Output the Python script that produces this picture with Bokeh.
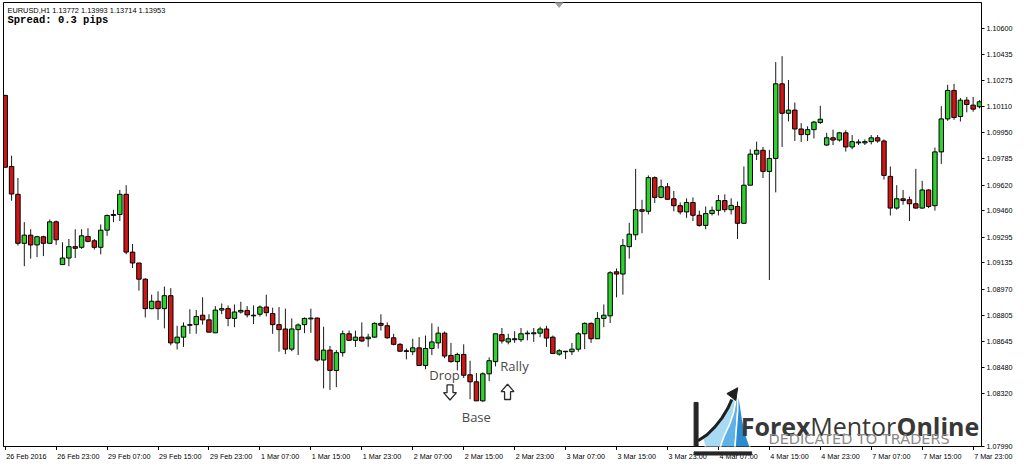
from bokeh.plotting import figure
from bokeh.layouts import column
from bokeh.models import Range1d, FixedTicker, PrintfTickFormatter, Label, PolyAnnotation, ColumnDataSource
from bokeh.core.properties import value
from bokeh.embed import file_html
from bokeh.resources import INLINE

# ---------------- data ----------------
SYMBOL_INFO = "EURUSD,H1  1.13772 1.13993 1.13714 1.13953"
SPREAD_INFO = "Spread: 0.3 pips"

OPEN = [1.10181, 1.09737, 1.09563, 1.09257, 1.09308, 1.09247, 1.09298, 1.09257, 1.09391, 1.09124,
        1.09165, 1.09236, 1.09232, 1.09300, 1.09273, 1.09232, 1.09339, 1.09431, 1.09437, 1.09563,
        1.09202, 1.09134, 1.09033, 1.08849, 1.08895, 1.08849, 1.08930, 1.08635, 1.08671, 1.08745,
        1.08749, 1.08808, 1.08779, 1.08698, 1.08840, 1.08849, 1.08788, 1.08828, 1.08838, 1.08804,
        1.08814, 1.08859, 1.08818, 1.08749, 1.08722, 1.08596, 1.08718, 1.08749, 1.08785, 1.08790,
        1.08528, 1.08590, 1.08463, 1.08574, 1.08692, 1.08651, 1.08671, 1.08661, 1.08671, 1.08757,
        1.08742, 1.08667, 1.08626, 1.08586, 1.08580, 1.08604, 1.08494, 1.08600, 1.08635, 1.08696,
        1.08557, 1.08518, 1.08563, 1.08436, 1.08392, 1.08273, 1.08442, 1.08518, 1.08687, 1.08641,
        1.08655, 1.08655, 1.08692, 1.08692, 1.08696, 1.08722, 1.08671, 1.08565, 1.08580, 1.08580,
        1.08596, 1.08692, 1.08757, 1.08661, 1.08788, 1.08804, 1.09079, 1.09065, 1.09236, 1.09310,
        1.09467, 1.09457, 1.09667, 1.09544, 1.09610, 1.09535, 1.09492, 1.09453, 1.09512, 1.09432,
        1.09369, 1.09443, 1.09463, 1.09524, 1.09467, 1.09487, 1.09382, 1.09620, 1.09814, 1.09838,
        1.09706, 1.09787, 1.10253, 1.10069, 1.10089, 1.09971, 1.09936, 1.09967, 1.10012, 1.09871,
        1.09916, 1.09902, 1.09947, 1.09859, 1.09884, 1.09884, 1.09892, 1.09916, 1.09896, 1.09675,
        1.09477, 1.09535, 1.09529, 1.09504, 1.09477, 1.09590, 1.09492, 1.09828, 1.10034, 1.10212,
        1.10049, 1.10151, 1.10120, 1.10110]
HIGH = [1.10181, 1.09804, 1.09665, 1.09389, 1.09345, 1.09304, 1.09304, 1.09406, 1.09400, 1.09263,
        1.09284, 1.09345, 1.09345, 1.09351, 1.09284, 1.09375, 1.09437, 1.09467, 1.09590, 1.09620,
        1.09253, 1.09134, 1.09039, 1.08936, 1.08957, 1.08987, 1.08977, 1.08742, 1.08763, 1.08845,
        1.08840, 1.08920, 1.08814, 1.08865, 1.08881, 1.08869, 1.08875, 1.08892, 1.08865, 1.08869,
        1.08869, 1.08936, 1.08855, 1.08859, 1.08849, 1.08788, 1.08757, 1.08794, 1.08849, 1.08794,
        1.08736, 1.08616, 1.08590, 1.08712, 1.08712, 1.08712, 1.08763, 1.08692, 1.08763, 1.08814,
        1.08763, 1.08692, 1.08635, 1.08600, 1.08661, 1.08671, 1.08681, 1.08757, 1.08736, 1.08706,
        1.08635, 1.08574, 1.08626, 1.08524, 1.08447, 1.08451, 1.08545, 1.08692, 1.08728, 1.08692,
        1.08708, 1.08728, 1.08712, 1.08728, 1.08736, 1.08742, 1.08681, 1.08596, 1.08583, 1.08635,
        1.08702, 1.08763, 1.08763, 1.08828, 1.08875, 1.09083, 1.09100, 1.09284, 1.09385, 1.09722,
        1.09529, 1.09681, 1.09675, 1.09655, 1.09634, 1.09584, 1.09512, 1.09538, 1.09544, 1.09461,
        1.09487, 1.09487, 1.09559, 1.09563, 1.09538, 1.09518, 1.09737, 1.09844, 1.09892, 1.09859,
        1.09841, 1.10389, 1.10426, 1.10277, 1.10136, 1.10008, 1.09988, 1.10022, 1.10116, 1.09947,
        1.09967, 1.09953, 1.09963, 1.09933, 1.09906, 1.09906, 1.09933, 1.09933, 1.09906, 1.09737,
        1.09620, 1.09590, 1.09549, 1.09722, 1.09647, 1.09593, 1.09855, 1.10114, 1.10247, 1.10253,
        1.10165, 1.10171, 1.10171, 1.10151]
LOW = [1.09732, 1.09523, 1.09243, 1.09114, 1.09161, 1.09171, 1.09177, 1.09257, 1.09247, 1.09124,
       1.09114, 1.09165, 1.09222, 1.09263, 1.09218, 1.09188, 1.09304, 1.09389, 1.09396, 1.09188,
       1.09103, 1.08961, 1.08794, 1.08845, 1.08779, 1.08726, 1.08620, 1.08594, 1.08610, 1.08692,
       1.08692, 1.08749, 1.08702, 1.08698, 1.08814, 1.08739, 1.08733, 1.08818, 1.08794, 1.08753,
       1.08800, 1.08800, 1.08692, 1.08580, 1.08565, 1.08583, 1.08559, 1.08696, 1.08698, 1.08518,
       1.08351, 1.08341, 1.08359, 1.08549, 1.08647, 1.08610, 1.08641, 1.08610, 1.08667, 1.08712,
       1.08661, 1.08620, 1.08580, 1.08532, 1.08559, 1.08491, 1.08471, 1.08559, 1.08600, 1.08539,
       1.08512, 1.08463, 1.08416, 1.08283, 1.08273, 1.08267, 1.08396, 1.08488, 1.08631, 1.08626,
       1.08635, 1.08641, 1.08651, 1.08641, 1.08671, 1.08610, 1.08565, 1.08555, 1.08534, 1.08559,
       1.08580, 1.08596, 1.08635, 1.08661, 1.08733, 1.08759, 1.08920, 1.08936, 1.09161, 1.09277,
       1.09320, 1.09437, 1.09508, 1.09538, 1.09529, 1.09457, 1.09437, 1.09416, 1.09396, 1.09361,
       1.09345, 1.09431, 1.09431, 1.09451, 1.09437, 1.09284, 1.09382, 1.09620, 1.09777, 1.09665,
       1.09028, 1.09575, 1.09859, 1.10018, 1.09896, 1.09890, 1.09896, 1.09912, 1.10002, 1.09865,
       1.09871, 1.09892, 1.09830, 1.09844, 1.09871, 1.09871, 1.09875, 1.09885, 1.09655, 1.09431,
       1.09467, 1.09498, 1.09396, 1.09473, 1.09473, 1.09477, 1.09461, 1.09753, 1.10022, 1.10028,
       1.10018, 1.10075, 1.10079, 1.10100]
CLOSE = [1.09732, 1.09565, 1.09257, 1.09308, 1.09247, 1.09298, 1.09257, 1.09391, 1.09279, 1.09165,
         1.09236, 1.09226, 1.09304, 1.09269, 1.09232, 1.09339, 1.09431, 1.09437, 1.09563, 1.09202,
         1.09134, 1.09033, 1.08849, 1.08895, 1.08849, 1.08930, 1.08635, 1.08671, 1.08739, 1.08749,
         1.08800, 1.08779, 1.08702, 1.08840, 1.08849, 1.08788, 1.08828, 1.08838, 1.08810, 1.08808,
         1.08859, 1.08824, 1.08749, 1.08718, 1.08596, 1.08722, 1.08747, 1.08788, 1.08790, 1.08528,
         1.08590, 1.08463, 1.08574, 1.08692, 1.08651, 1.08671, 1.08647, 1.08671, 1.08757, 1.08745,
         1.08667, 1.08626, 1.08583, 1.08582, 1.08604, 1.08494, 1.08600, 1.08641, 1.08696, 1.08553,
         1.08518, 1.08563, 1.08433, 1.08392, 1.08273, 1.08442, 1.08524, 1.08692, 1.08647, 1.08661,
         1.08661, 1.08692, 1.08696, 1.08698, 1.08722, 1.08665, 1.08569, 1.08586, 1.08583, 1.08596,
         1.08692, 1.08757, 1.08661, 1.08788, 1.08808, 1.09073, 1.09065, 1.09243, 1.09314, 1.09467,
         1.09457, 1.09667, 1.09544, 1.09610, 1.09532, 1.09492, 1.09453, 1.09512, 1.09432, 1.09369,
         1.09443, 1.09463, 1.09524, 1.09467, 1.09494, 1.09382, 1.09620, 1.09814, 1.09838, 1.09706,
         1.09787, 1.10253, 1.10069, 1.10089, 1.09971, 1.09936, 1.09967, 1.10014, 1.10032, 1.09916,
         1.09902, 1.09947, 1.09859, 1.09892, 1.09890, 1.09892, 1.09916, 1.09896, 1.09681, 1.09477,
         1.09535, 1.09524, 1.09504, 1.09477, 1.09590, 1.09487, 1.09828, 1.10034, 1.10212, 1.10043,
         1.10151, 1.10124, 1.10095, 1.10141]

TIME_LABELS = ["26 Feb 2016", "26 Feb 23:00", "29 Feb 07:00", "29 Feb 15:00", "29 Feb 23:00",
               "1 Mar 07:00", "1 Mar 15:00", "1 Mar 23:00", "2 Mar 07:00", "2 Mar 15:00",
               "2 Mar 23:00", "3 Mar 07:00", "3 Mar 15:00", "3 Mar 23:00", "4 Mar 07:00",
               "4 Mar 15:00", "4 Mar 23:00", "7 Mar 07:00", "7 Mar 15:00", "7 Mar 23:00"]
BARS_PER_TIME_LABEL = 8

PRICE_TICKS = [1.10600, 1.10435, 1.10275, 1.10110, 1.09950, 1.09785, 1.09620, 1.09460,
               1.09295, 1.09135, 1.08970, 1.08805, 1.08645, 1.08480, 1.08320, 1.07990]

ZONE_TEXTS = ["Drop", "Base", "Rally"]
LOGO_WORDS = ["Forex", "Mentor", "Online"]
LOGO_TAGLINE = "DEDICATED TO TRADERS"

# ---------------- layout ----------------
BORDER_LEFT, BORDER_TOP = 3, 2
FRAME_W, FRAME_H = 978, 444
PX_PER_BAR = 6.368
X_START = -0.267
X_END = X_START + FRAME_W / PX_PER_BAR
Y_BOT, Y_TOP = 1.07988, 1.10761
DATE_STRIP_W, DATE_STRIP_H = 1013, 11

# reference picture geometry, used to place the annotations
REF_X0, REF_BAR = 4.7, 6.418
REF_P0, REF_DP = 1.1077325, 0.00006122

def ref_x(px):
    return (px - REF_X0) / REF_BAR

def ref_y(py):
    return REF_P0 - REF_DP * py

GREEN = "#2fd12f"
RED = "#d01515"
AXIS_FONT = "Liberation Sans"
AXIS_SIZE = "7.2px"

idx = list(range(len(OPEN)))
src = ColumnDataSource(dict(
    x=idx,
    high=HIGH,
    low=LOW,
    top=[max(o, c) for o, c in zip(OPEN, CLOSE)],
    bottom=[min(o, c) for o, c in zip(OPEN, CLOSE)],
    color=[GREEN if c >= o else RED for o, c in zip(OPEN, CLOSE)],
))

p = figure(frame_width=FRAME_W, frame_height=FRAME_H,
           x_range=Range1d(X_START, X_END), y_range=Range1d(Y_BOT, Y_TOP),
           y_axis_location="right", toolbar_location=None, output_backend="svg",
           min_border_left=BORDER_LEFT, min_border_top=BORDER_TOP,
           min_border_right=0, min_border_bottom=0,
           background_fill_color="white", border_fill_color="white")
p.grid.visible = False
p.outline_line_color = "black"
p.outline_line_width = 1

p.segment(x0="x", y0="low", x1="x", y1="high", source=src, line_color="#1a1a1a", line_width=1)
p.vbar(x="x", width=0.7, top="top", bottom="bottom", source=src,
       fill_color="color", line_color="black", line_width=1)

# price axis (right)
ya = p.yaxis[0]
ya.ticker = FixedTicker(ticks=PRICE_TICKS)
ya.formatter = PrintfTickFormatter(format="%.5f")
ya.major_tick_out = 3
ya.major_tick_in = 0
ya.minor_tick_out = 0
ya.minor_tick_in = 0
ya.major_label_standoff = 2
ya.major_label_text_font = AXIS_FONT
ya.major_label_text_font_size = AXIS_SIZE
ya.major_label_text_color = "black"
ya.axis_line_color = "black"
ya.major_tick_line_color = "black"

# time axis (below): tick marks here, labels drawn left-aligned (MT4 style) in a strip below
tick_pos = [k * BARS_PER_TIME_LABEL for k in range(len(TIME_LABELS))]
xa = p.xaxis[0]
xa.ticker = FixedTicker(ticks=tick_pos)
xa.major_label_text_color = None
xa.major_label_text_font_size = "0px"
xa.major_label_standoff = 0
xa.major_tick_out = 4
xa.major_tick_in = 0
xa.minor_tick_out = 0
xa.minor_tick_in = 0
xa.axis_line_color = "black"
xa.major_tick_line_color = "black"

# header texts
p.add_layout(Label(x=ref_x(7), y=ref_y(10), text=SYMBOL_INFO, text_font=AXIS_FONT,
                   text_font_size="7.4px", text_color="black",
                   text_align="left", text_baseline="middle"))
p.add_layout(Label(x=ref_x(7), y=ref_y(20), text=SPREAD_INFO, text_font="Liberation Mono",
                   text_font_size="10.5px", text_font_style="bold", text_color="black",
                   text_align="left", text_baseline="middle"))

# Drop / Base / Rally annotations
zone_pos = [(447.5, 382), (479.5, 425), (518, 373)]
for txt, (px, py) in zip(ZONE_TEXTS, zone_pos):
    p.add_layout(Label(x=ref_x(px), y=ref_y(py), text=txt, text_font="Open Sans",
                       text_font_size="13px", text_color="#4a4a4a",
                       text_align="center", text_baseline="middle"))

def poly(pts, **kw):
    kw.setdefault("line_alpha", 1)
    p.add_layout(PolyAnnotation(xs=[ref_x(a) for a, _ in pts], ys=[ref_y(b) for _, b in pts],
                                level="overlay", **kw))

# hollow arrows under "Drop" and "Rally"
poly([(450, 392), (456, 392), (456, 400), (459.5, 400), (453, 407.5), (446.5, 400), (450, 400)],
     fill_color="white", fill_alpha=1, line_color="#2a2a2a", line_width=1.3)
poly([(508, 407), (514, 407), (514, 399), (517.5, 399), (511, 391.5), (504.5, 399), (508, 399)],
     fill_color="white", fill_alpha=1, line_color="#2a2a2a", line_width=1.3)

# ---------------- logo ----------------
poly([(559, 2), (567, 2), (563, 7)], fill_color="#a0a0a0", fill_alpha=1, line_color="#a0a0a0")
poly([(712, 460), (707, 446), (714, 441), (721, 434), (728, 425), (733, 416), (737, 407), (740, 400),
      (741, 408), (739, 420), (735, 432), (729, 445), (724, 460)],
     fill_color="#a8daf4", fill_alpha=1, line_color="white", line_width=1.5)
poly([(724, 460), (729, 445), (735, 432), (739, 420), (741, 408), (740, 400), (743, 404), (743, 418),
      (742, 432), (741, 445), (740, 460)],
     fill_color="#5db3e8", fill_alpha=1, line_color="white", line_width=1.5)
poly([(740, 460), (741, 445), (742, 432), (743, 418), (743, 404), (744, 402), (746, 414), (748, 428),
      (751, 442), (757, 460)],
     fill_color="#2a8bd3", fill_alpha=1, line_color="white", line_width=1.5)
poly([(703, 449), (712, 443), (720, 435), (727, 426), (733, 416), (737, 407),
      (733, 416), (727, 426), (720, 435), (712, 443)],
     fill_alpha=0, line_color="#1e1e1e", line_width=3)
poly([(743, 395), (732, 401), (741, 408)], fill_color="#1e1e1e", fill_alpha=1, line_color="#1e1e1e")
poly([(699, 410), (703, 410), (703, 470), (699, 470)],
     fill_color="#262626", fill_alpha=1, line_color="#262626")

logo_x = [746, 816, 903]
logo_style = ["bold", "normal", "bold"]
for w, lx, st in zip(LOGO_WORDS, logo_x, logo_style):
    p.add_layout(Label(x=ref_x(lx), y=ref_y(434), text=w, text_font="Open Sans",
                       text_font_size="25px", text_font_style=st, text_color="#383838",
                       text_align="left", text_baseline="alphabetic", level="overlay"))
p.add_layout(Label(x=ref_x(774), y=ref_y(447), text=LOGO_TAGLINE, text_font="DejaVu Sans",
                   text_font_size="14.5px", text_color="#8a8a8a",
                   text_align="left", text_baseline="alphabetic", level="overlay"))

# ---------------- date strip under the time axis ----------------
d = figure(frame_width=DATE_STRIP_W, frame_height=DATE_STRIP_H,
           x_range=Range1d(X_START, X_START + DATE_STRIP_W / PX_PER_BAR),
           y_range=Range1d(DATE_STRIP_H, 0),
           x_axis_type=None, y_axis_type=None, toolbar_location=None, output_backend="svg",
           min_border_left=BORDER_LEFT, min_border_right=0, min_border_top=0, min_border_bottom=0,
           background_fill_color="white", border_fill_color="white")
d.grid.visible = False
d.outline_line_color = None
d.text(x=tick_pos, y=[0.5] * len(tick_pos), text=TIME_LABELS,
       text_font=value(AXIS_FONT), text_font_size="7.2px", text_color="black",
       text_align="left", text_baseline="top", x_offset=1)
# bottom bar of the logo's bracket, which overlaps the date labels
d.quad(left=[ref_x(699)], right=[ref_x(757)], top=[0], bottom=[3.5],
       fill_color="#262626", line_color="#262626")

layout = column(p, d, spacing=0)
open("out.html", "w").write(file_html(layout, INLINE))
